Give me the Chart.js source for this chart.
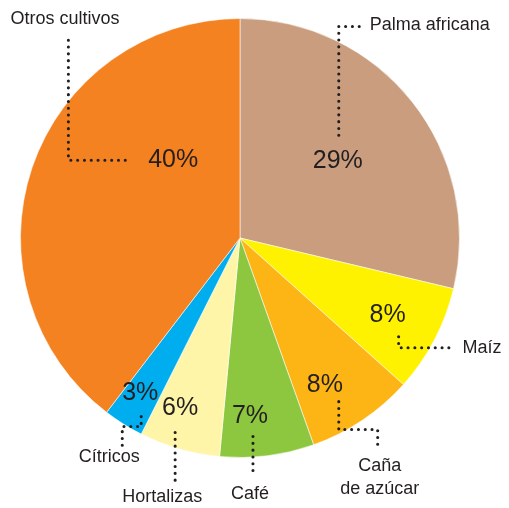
<!DOCTYPE html>
<html lang="es">
<head>
<meta charset="utf-8">
<title>Cultivos</title>
<script src="https://cdn.jsdelivr.net/npm/chart.js@4.4.1/dist/chart.umd.min.js"></script>
<style>
    html, body { margin: 0; padding: 0; background: #fff; }
    #wrap { width: 509px; height: 508px; }
</style>
</head>
<body>
<div id="wrap"><canvas id="chartCultivos"></canvas></div>
<script>
const cultivos = ['Palma africana', 'Maíz', 'Caña de azúcar', 'Café', 'Hortalizas', 'Cítricos', 'Otros cultivos'];
const porcentajes = [29, 8, 8, 7, 6, 3, 40];
const colores = ['#c99d7e', '#fff200', '#fdb515', '#8dc63f', '#fff5a8', '#00aeef', '#f58220'];

const ink = '#231f20';

// label placement, offsets in px from the pie centre (for a 220px radius)
// pct: where the percentage sits, lead: dotted leader, name: category text lines
const rotulos = [
    { pct: [98, -77], lead: [[99, -103], [99, -212], [125, -212]], name: [[130, -213]], align: 'left' },
    { pct: [148, 77], lead: [[159, 99], [159, 110], [215, 110]], name: [[223, 110]], align: 'left' },
    { pct: [85, 147], lead: [[99, 164], [99, 192], [138, 192], [138, 212]], name: [[140, 229], [140, 252]], align: 'center', lines: ['Caña', 'de azúcar'] },
    { pct: [10, 179], lead: [[13, 199], [13, 238]], name: [[10, 257]], align: 'center' },
    { pct: [-60, 170], lead: [[-65, 195], [-65, 243]], name: [[-78, 260]], align: 'center' },
    { pct: [-100, 155], lead: [[-99, 179], [-99, 189], [-118, 189], [-118, 209]], name: [[-131, 220]], align: 'center' },
    { pct: [-67, -78], lead: [[-115, -78], [-172, -78], [-172, -201]], name: [[-230, -219]], align: 'left' },
];

const pieLabels = {
    id: 'pieLabels',
    afterDraw(chart) {
        const { ctx } = chart;
        const arc = chart.getDatasetMeta(0).data[0];
        if (!arc) {
            return;
        }
        const cx = arc.x;
        const cy = arc.y;
        const k = arc.outerRadius / 220;
        const px = (p) => [cx + p[0] * k, cy + p[1] * k];

        ctx.save();
        ctx.fillStyle = ink;
        ctx.strokeStyle = ink;
        ctx.textBaseline = 'middle';

        rotulos.forEach((r, i) => {
            // dotted leader
            ctx.lineWidth = 3.1;
            ctx.lineCap = 'round';
            ctx.setLineDash([0, 6.8]);
            ctx.beginPath();
            r.lead.forEach((p, j) => {
                const [x, y] = px(p);
                if (j === 0) ctx.moveTo(x, y); else ctx.lineTo(x, y);
            });
            ctx.stroke();
            ctx.setLineDash([]);

            // percentage
            ctx.font = '25px "Liberation Sans", Arial, sans-serif';
            ctx.textAlign = 'center';
            const [tx, ty] = px(r.pct);
            ctx.fillText(porcentajes[i] + '%', tx, ty);

            // category name
            ctx.font = '18px "Liberation Sans", Arial, sans-serif';
            ctx.textAlign = r.align;
            const lines = r.lines || [cultivos[i]];
            lines.forEach((t, j) => {
                const [nx, ny] = px(r.name[j]);
                ctx.fillText(t, nx, ny);
            });
        });
        ctx.restore();
    },
};

new Chart(document.getElementById('chartCultivos'), {
    type: 'pie',
    data: {
        labels: cultivos,
        datasets: [
            {
                data: porcentajes,
                backgroundColor: colores,
                borderColor: 'rgba(255, 255, 255, 0.55)',
                borderWidth: 1,
            },
        ],
    },
    options: {
        responsive: true,
        maintainAspectRatio: false,
        animation: false,
        layout: { padding: { left: 20, right: 49, top: 18, bottom: 50 } },
        plugins: {
            legend: { display: false },
            tooltip: { enabled: false },
        },
    },
    plugins: [pieLabels],
});
</script>
</body>
</html>
